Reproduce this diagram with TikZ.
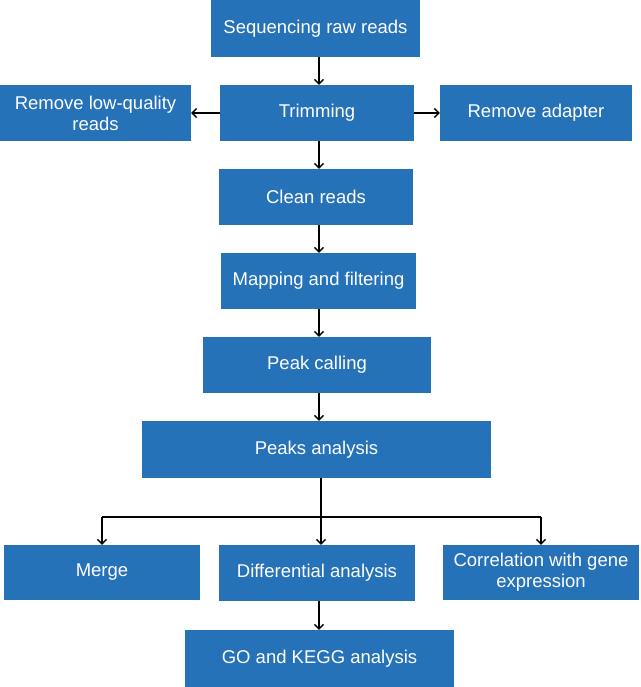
\documentclass[tikz,border=0pt]{standalone}
\usepackage{fontspec}
\setmainfont{Liberation Sans}
\usetikzlibrary{arrows.meta}
\definecolor{boxblue}{RGB}{38,114,185}
\begin{document}
\begin{tikzpicture}[x=1pt,y=-1pt,
  stepbox/.style={fill=boxblue, text=white, inner sep=0pt, align=center, font=\fontsize{18.5}{21}\selectfont},
  arr/.style={draw=black, line width=1.4pt, -{Straight Barb[length=4.5pt,width=9pt]}},
  ln/.style={draw=black, line width=1.4pt}]
\useasboundingbox (0,0) rectangle (640,687);
\newcommand{\bx}[6]{\node[stepbox, minimum width=#4, minimum height=#5] (#1) at (#2,#3) {#6};}
\bx{seq}{315.5}{28.5}{209pt}{57pt}{Sequencing raw reads}
\bx{trim}{317}{113}{194pt}{56pt}{Trimming}
\bx{low}{95.5}{113}{191pt}{56pt}{Remove low-quality\\reads}
\bx{adapt}{536}{113}{192pt}{56pt}{Remove adapter}
\bx{clean}{316}{197}{194pt}{56pt}{Clean reads}
\bx{map}{318.5}{281}{195pt}{56pt}{Mapping and filtering}
\bx{peak}{317}{365}{228pt}{56pt}{Peak calling}
\bx{peaks}{316.5}{449.5}{349pt}{57pt}{Peaks analysis}
\bx{merge}{102}{572.5}{196pt}{55pt}{Merge}
\bx{diff}{317}{573}{196pt}{56pt}{Differential analysis}
\bx{corr}{541}{572.5}{196pt}{55pt}{Correlation with gene\\expression}
\bx{go}{319.5}{658.5}{269pt}{57pt}{GO and KEGG analysis}
\coordinate (ax) at (319,0);
\coordinate (bx) at (321,0);
\coordinate (bus) at (0,517);
\draw[arr] (seq.south -| ax) -- (trim.north -| ax);
\draw[arr] (trim.south -| ax) -- (clean.north -| ax);
\draw[arr] (clean.south -| ax) -- (map.north -| ax);
\draw[arr] (map.south -| ax) -- (peak.north -| ax);
\draw[arr] (peak.south -| ax) -- (peaks.north -| ax);
\draw[arr] (trim.west) -- (low.east);
\draw[arr] (trim.east) -- (adapt.west);
\draw[arr] (peaks.south -| bx) -- (diff.north -| bx);
\draw[ln] (bus -| merge) -- (bus -| corr);
\draw[arr] (bus -| merge) -- (merge.north);
\draw[arr] (bus -| corr) -- (corr.north);
\draw[arr] (diff.south -| ax) -- (go.north -| ax);
\end{tikzpicture}
\end{document}
